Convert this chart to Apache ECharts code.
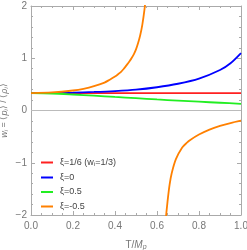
<!DOCTYPE html>
<html><head><meta charset="utf-8">
<script src="https://cdn.jsdelivr.net/npm/echarts@6/dist/echarts.min.js"></script>
<style>html,body{margin:0;padding:0;background:#fff}#c{width:247px;height:250px}</style>
</head><body><div id="c"></div>
<script>
const seriesNames = ['ξ=1/6 (w_i=1/3)', 'ξ=0', 'ξ=0.5', 'ξ=-0.5'];
const xTicks = [0, 0.2, 0.4, 0.6, 0.8, 1.0];
const yTicks = [-2, -1, 0, 1, 2];
const redT = [0, 1];
const redW = [0.3333, 0.3333];
const blueT = [0, 0.1, 0.2, 0.3, 0.4, 0.5, 0.6, 0.7, 0.8, 0.9, 0.95, 1.0];
const blueW = [0.333, 0.336, 0.343, 0.355, 0.372, 0.398, 0.445, 0.512, 0.610, 0.775, 0.905, 1.10];
const greenT = [0, 0.1, 0.2, 0.3, 0.4, 0.5, 0.6, 0.7, 0.8, 0.9, 1.0];
const greenW = [0.333, 0.325, 0.306, 0.284, 0.259, 0.235, 0.211, 0.189, 0.168, 0.148, 0.128];
const orangeT1 = [0, 0.1, 0.2, 0.25, 0.3, 0.35, 0.375, 0.4, 0.415, 0.43, 0.44, 0.45, 0.46, 0.47, 0.48, 0.49, 0.50, 0.51, 0.52, 0.53, 0.54, 0.55, 0.56];
const orangeW1 = [0.333, 0.346, 0.383, 0.415, 0.465, 0.535, 0.59, 0.65, 0.695, 0.745, 0.79, 0.84, 0.893, 0.948, 1.01, 1.08, 1.17, 1.29, 1.44, 1.64, 1.92, 2.3, 2.85];
const orangeT2 = [0.63, 0.64, 0.65, 0.66, 0.67, 0.69, 0.72, 0.74, 0.76, 0.80, 0.85, 0.90, 0.95, 1.0];
const orangeW2 = [-2.6, -2.15, -1.75, -1.42, -1.2, -0.93, -0.71, -0.625, -0.56, -0.46, -0.365, -0.295, -0.24, -0.195];

const pair = (t, w) => t.map((v, i) => [v, w[i]]);
const orangeData = pair(orangeT1, orangeW1).concat([[0.595, null]], pair(orangeT2, orangeW2));

const ch = echarts.init(document.getElementById('c'), null, {renderer: 'canvas'});
const frame = {show: true, lineStyle: {color: '#aaa', width: 1}, onZero: false};
const lblColor = '#777';
const fmtNum = v => (v < 0 ? '\u2212' + Math.abs(v) : '' + v);
const xCommon = {type: 'value', min: 0, max: 1, interval: 0.2, axisLine: frame,
  axisTick: {show: true, inside: true, length: 4, lineStyle: {color: '#aaa'}},
  minorTick: {show: true, splitNumber: 4, length: 2, lineStyle: {color: '#aaa'}},
  splitLine: {show: false}};
const yCommon = {type: 'value', min: -2, max: 2, interval: 1, axisLine: frame,
  axisTick: {show: true, inside: true, length: 4, lineStyle: {color: '#aaa'}},
  minorTick: {show: true, splitNumber: 5, length: 2, lineStyle: {color: '#aaa'}},
  splitLine: {show: false}};
const colors = ['#ff2020', '#0000ff', '#22ee22', '#ff8000'];
const lw = 1.8;
const mk = (name, data, color) => ({name, type: 'line', data, showSymbol: false, symbol: 'none',
  clip: true, connectNulls: false, lineStyle: {color, width: lw}, itemStyle: {color},
  smooth: 0.3});

ch.setOption({
  animation: false,
  grid: {left: 31, right: 6, top: 6, bottom: 35, containLabel: false, outerBoundsMode: 'none'},
  xAxis: [
    Object.assign({}, xCommon, {position: 'bottom',
      axisLabel: {color: lblColor, fontSize: 10, fontFamily: 'Liberation Sans', margin: 6,
        formatter: v => v.toFixed(1)},
      name: '{n|T/}{i|M}{s|p}', nameLocation: 'middle', nameGap: 24, nameMoveOverlap: false,
      nameTextStyle: {color: lblColor, fontSize: 10, fontFamily: 'Liberation Sans',
        rich: {n: {fontSize: 10, color: lblColor}, i: {fontSize: 10, fontStyle: 'italic', color: lblColor},
          s: {fontSize: 7, fontStyle: 'italic', color: lblColor, verticalAlign: 'bottom', padding: [5, 0, 0, 0]}}}}),
    Object.assign({}, xCommon, {position: 'top', axisLabel: {show: false}})
  ],
  yAxis: [
    Object.assign({}, yCommon, {position: 'left',
      axisLabel: {color: lblColor, fontSize: 10, fontFamily: 'Liberation Sans', margin: 4, formatter: fmtNum},
      name: '{i|w}{s|i}{n| = \u27E8}{i|p}{s|i}{n|\u27E9 / \u27E8}{i|\u03C1}{s|i}{n|\u27E9}',
      nameLocation: 'middle', nameGap: 22, nameRotate: 90, nameMoveOverlap: false,
      nameTextStyle: {color: lblColor, fontSize: 9, fontFamily: 'Liberation Sans',
        rich: {n: {fontSize: 9, color: lblColor}, i: {fontSize: 9, fontStyle: 'italic', color: lblColor},
          s: {fontSize: 6, fontStyle: 'italic', color: lblColor, verticalAlign: 'bottom', padding: [4, 0, 0, 0]}}}}),
    Object.assign({}, yCommon, {position: 'right', axisLabel: {show: false}})
  ],
  legend: {orient: 'vertical', left: 36, top: 153, itemGap: 5.5, itemWidth: 12, itemHeight: 2,
    icon: 'rect', data: seriesNames,
    textStyle: {color: '#444', fontSize: 9, fontFamily: 'Liberation Sans', padding: [0, 0, 0, 2],
      rich: {n: {fontSize: 9, color: '#444'}, s: {fontSize: 6, color: '#444', verticalAlign: 'bottom', padding: [4, 0, 0, 0]}}},
    formatter: n => n.indexOf('w_i') >= 0 ? '{n|ξ=1/6 (w}{s|i}{n|=1/3)}' : '{n|' + n + '}'},
  series: [
    Object.assign(mk(seriesNames[0], pair(redT, redW), colors[0]), {
      markLine: {silent: true, symbol: 'none', label: {show: false},
        lineStyle: {color: '#bbb', width: 1, type: 'solid'}, data: [{yAxis: 0}]}, z: 2}),
    mk(seriesNames[1], pair(blueT, blueW), colors[1]),
    mk(seriesNames[2], pair(greenT, greenW), colors[2]),
    mk(seriesNames[3], orangeData, colors[3])
  ]
});
</script></body></html>
